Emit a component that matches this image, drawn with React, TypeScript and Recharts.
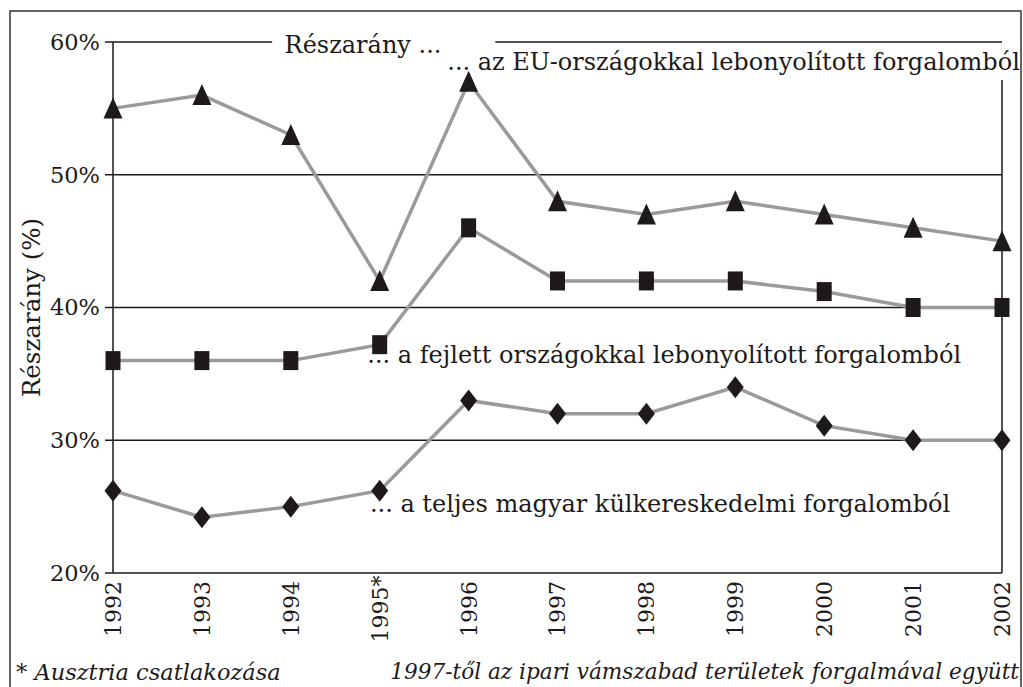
import React from 'react';
import { LineChart, Line, XAxis, YAxis, ReferenceLine, ReferenceDot, Label } from 'recharts';

const years = [1992, 1993, 1994, 1995, 1996, 1997, 1998, 1999, 2000, 2001, 2002];
const yearLabels = ['1992', '1993', '1994', '1995*', '1996', '1997', '1998', '1999', '2000', '2001', '2002'];
const euShare = [55, 56, 53, 42, 57, 48, 47, 48, 47, 46, 45];
const developedShare = [36, 36, 36, 37.2, 46, 42, 42, 42, 41.2, 40, 40];
const totalShare = [26.2, 24.2, 25, 26.2, 33, 32, 32, 34, 31.1, 30, 30];
const yTicks = [20, 30, 40, 50, 60];
const gridValues = [30, 40, 50];

const titleText = 'Részarány ...';
const euText = '... az EU-országokkal lebonyolított forgalomból';
const devText = '... a fejlett országokkal lebonyolított forgalomból';
const totText = '... a teljes magyar külkereskedelmi forgalomból';
const yAxisTitle = 'Részarány (%)';
const footLeft = '* Ausztria csatlakozása';
const footRight = '1997-től az ipari vámszabad területek forgalmával együtt';

const data = years.map((y, i) => ({
  year: y,
  eu: euShare[i],
  dev: developedShare[i],
  tot: totalShare[i],
}));

const FONT = 'DejaVu Serif';
const INK = '#1e1a1a';

const Triangle = (p: any) => {
  const { cx, cy, index } = p;
  if (cx == null || cy == null) return <g key={`t${index}`} />;
  return <path key={`t${index}`} d={`M${cx},${cy - 11} L${cx + 9.5},${cy + 10} L${cx - 9.5},${cy + 10} Z`} fill={INK} />;
};
const Square = (p: any) => {
  const { cx, cy, index } = p;
  if (cx == null || cy == null) return <g key={`s${index}`} />;
  return <rect key={`s${index}`} x={cx - 7.5} y={cy - 9.5} width={15} height={19} fill={INK} />;
};
const Diamond = (p: any) => {
  const { cx, cy, index } = p;
  if (cx == null || cy == null) return <g key={`d${index}`} />;
  return <path key={`d${index}`} d={`M${cx},${cy - 11} L${cx + 8.5},${cy} L${cx},${cy + 11} L${cx - 8.5},${cy} Z`} fill={INK} />;
};

const XTick = (p: any) => {
  const { x, y, payload } = p;
  const idx = years.indexOf(payload.value);
  const label = idx >= 0 ? yearLabels[idx] : String(payload.value);
  const ty = y + 27;
  return (
    <text x={x} y={ty} transform={`rotate(-90, ${x}, ${ty})`} textAnchor="middle" dy="0.36em"
      fontFamily={FONT} fontSize={22} fill={INK}>{label}</text>
  );
};

const textShape = (txt: string) => (p: any) => (
  <text x={p.cx} y={p.cy} textAnchor="start" fontFamily={FONT} fontSize={24} fill={INK}>{txt}</text>
);

export default function App() {
  return (
    <div style={{ position: 'absolute', left: 0, top: 0, width: 1023, height: 687, background: '#fff', overflow: 'hidden' }}>
      <svg width={1023} height={687} style={{ position: 'absolute', left: 0, top: 0 }}>
        <rect x={10} y={11} width={1011} height={720} fill="none" stroke="#333" strokeWidth={1.5} />
        <text x={16} y={680} fontFamily={FONT} fontStyle="italic" fontSize={22.5} fill={INK}>{footLeft}</text>
        <text x={1019} y={679} textAnchor="end" fontFamily={FONT} fontStyle="italic" fontSize={21.6} fill={INK}>{footRight}</text>
      </svg>
      <div style={{ position: 'absolute', left: 0, top: 0 }}>
        <LineChart width={1023} height={687} data={data} margin={{ top: 42, right: 21, bottom: 14, left: 0 }}>
          <XAxis dataKey="year" type="number" domain={[1992, 2002]} ticks={years} interval={0}
            height={100} tickSize={6} tickMargin={3} tickLine={false}
            axisLine={{ stroke: INK, strokeWidth: 1.5 }} tick={<XTick />} />
          <YAxis type="number" domain={[20, 60]} ticks={yTicks} interval={0} width={113}
            tickSize={8} tickMargin={5} tickLine={{ stroke: INK, strokeWidth: 1.5 }}
            axisLine={{ stroke: INK, strokeWidth: 1.5 }}
            tickFormatter={(v: number) => `${v}%`}
            tick={{ fontFamily: FONT, fontSize: 22.5, fill: INK }}>
            <Label content={(props: any) => {
              const vb = props.viewBox || { x: 0, y: 42, width: 113, height: 531 };
              const cy = vb.y + vb.height / 2;
              return (
                <text x={40} y={cy} transform={`rotate(-90, 40, ${cy})`} textAnchor="middle"
                  fontFamily={FONT} fontSize={24.5} fill={INK}>{yAxisTitle}</text>
              );
            }} />
          </YAxis>
          {gridValues.map((v) => (
            <ReferenceLine key={v} y={v} stroke={INK} strokeWidth={1.5} />
          ))}
          <ReferenceLine segment={[{ x: 1992, y: 60 }, { x: 1993.79, y: 60 }]} stroke={INK} strokeWidth={1.5} />
          <ReferenceLine segment={[{ x: 1996.3, y: 60 }, { x: 2002, y: 60 }]} stroke={INK} strokeWidth={1.5} />
          <ReferenceLine segment={[{ x: 2002, y: 57.14 }, { x: 2002, y: 20 }]} stroke={INK} strokeWidth={1.5} />
          <ReferenceDot x={1993.93} y={59.17} r={0} shape={textShape(titleText)} />
          <ReferenceDot x={1995.76} y={57.89} r={0} shape={textShape(euText)} />
          <ReferenceDot x={1994.86} y={35.82} r={0} shape={textShape(devText)} />
          <ReferenceDot x={1994.89} y={24.6} r={0} shape={textShape(totText)} />
          <Line dataKey="eu" stroke="#9a9a9a" strokeWidth={3.5} dot={Triangle} isAnimationActive={false} />
          <Line dataKey="dev" stroke="#9a9a9a" strokeWidth={3.5} dot={Square} isAnimationActive={false} />
          <Line dataKey="tot" stroke="#9a9a9a" strokeWidth={3.5} dot={Diamond} isAnimationActive={false} />
        </LineChart>
      </div>
    </div>
  );
}
